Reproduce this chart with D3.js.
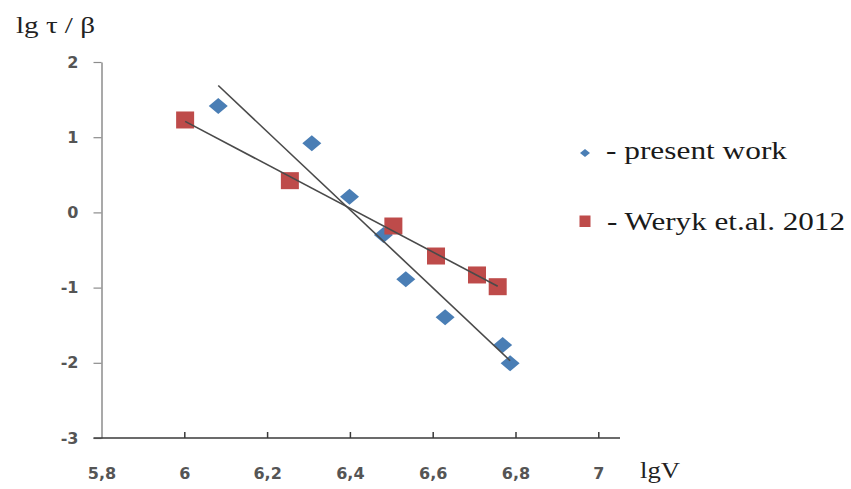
<!DOCTYPE html>
<html>
<head>
<meta charset="utf-8">
<script src="https://cdn.jsdelivr.net/npm/d3@7"></script>
<style>
  html, body { margin: 0; padding: 0; background: #fff; }
  svg { display: block; }
</style>
</head>
<body>
<svg id="chart" width="851" height="489"></svg>
<script>
// ---- data ----
const presentX = [6.082, 6.308, 6.399, 6.481, 6.535, 6.630, 6.769, 6.787];
const presentY = [1.415, 0.919, 0.209, -0.301, -0.890, -1.395, -1.763, -2.007];
const werykX = [6.002, 6.255, 6.505, 6.608, 6.707, 6.757];
const werykY = [1.229, 0.422, -0.181, -0.580, -0.832, -0.988];
const xTicks = [5.8, 6, 6.2, 6.4, 6.6, 6.8, 7];
const yTicks = [-3, -2, -1, 0, 1, 2];
const seriesNames = ["- present work", "- Weryk et.al. 2012"];
const yTitle = "lg \u03C4 / \u03B2";
const xTitle = "lgV";

const blue = "#4A7EB5", red = "#BE4B4A", trend = "#4a4a4a";

const svg = d3.select("#chart");
svg.append("rect").attr("width", 851).attr("height", 489).attr("fill", "#fff");

const x = d3.scaleLinear().domain([5.8, 7]).range([101.5, 598.3]);
const y = d3.scaleLinear().domain([-3, 2]).range([438, 62]);

const fmt = d => String(d).replace(".", ",");

// y axis
const yAxis = svg.append("g").attr("transform", `translate(${x(5.8)},0)`)
  .call(d3.axisLeft(y).tickValues(yTicks).tickSize(8).tickSizeOuter(0).tickFormat(fmt).tickPadding(15));
yAxis.select(".domain").attr("stroke", "#8c8c8c").attr("stroke-width", 1.5);
yAxis.selectAll(".tick line").attr("stroke", "#8c8c8c").attr("stroke-width", 1.2);
yAxis.selectAll(".tick text")
  .attr("font-family", "DejaVu Sans, Verdana, sans-serif")
  .attr("font-weight", "bold").attr("font-size", 16).attr("fill", "#555");

// x axis
const xAxis = svg.append("g").attr("transform", `translate(0,${y(-3)})`)
  .call(d3.axisBottom(x).tickValues(xTicks).tickSize(-6).tickSizeOuter(0).tickFormat(fmt).tickPadding(30));
xAxis.select(".domain").remove();
xAxis.append("line").attr("x1", x(5.8) - 8).attr("x2", 620).attr("y1", 0).attr("y2", 0)
  .attr("stroke", "#3a3a3a").attr("stroke-width", 1.5);
xAxis.selectAll(".tick line").attr("stroke", "#3a3a3a").attr("stroke-width", 1.5)
  .attr("opacity", d => d === 5.8 ? 0 : 1);
xAxis.selectAll(".tick text")
  .attr("font-family", "DejaVu Sans, Verdana, sans-serif")
  .attr("font-weight", "bold").attr("font-size", 16).attr("fill", "#555");

// markers
const present = presentX.map((v, i) => ({x: v, y: presentY[i]}));
const weryk = werykX.map((v, i) => ({x: v, y: werykY[i]}));

const diamond = (w, h) => `M0,${-h/2}L${w/2},0L0,${h/2}L${-w/2},0Z`;

svg.append("g").selectAll("path").data(present).join("path")
  .attr("d", diamond(19, 16))
  .attr("transform", d => `translate(${x(d.x)},${y(d.y)})`)
  .attr("fill", blue);

svg.append("g").selectAll("rect").data(weryk).join("rect")
  .attr("x", d => x(d.x) - 9).attr("y", d => y(d.y) - 8.5)
  .attr("width", 18).attr("height", 17)
  .attr("fill", red);

// linear trend lines (least squares over each series' x range)
function fit(pts) {
  const mx = d3.mean(pts, d => d.x), my = d3.mean(pts, d => d.y);
  const sxy = d3.sum(pts, d => (d.x - mx) * (d.y - my));
  const sxx = d3.sum(pts, d => (d.x - mx) ** 2);
  const b = sxy / sxx, a = my - b * mx;
  const [x0, x1] = d3.extent(pts, d => d.x);
  return [{x: x0, y: a + b * x0}, {x: x1, y: a + b * x1}];
}
const line = d3.line().x(d => x(d.x)).y(d => y(d.y));
[present, weryk].forEach(s => {
  svg.append("path").attr("d", line(fit(s)))
    .attr("fill", "none").attr("stroke", trend).attr("stroke-width", 1.6);
});

// titles
svg.append("text").attr("x", 16).attr("y", 33).text(yTitle)
  .attr("font-family", "Liberation Serif, Times New Roman, serif")
  .attr("font-size", 24).attr("fill", "#222")
  .attr("textLength", 79).attr("lengthAdjust", "spacingAndGlyphs");
svg.append("text").attr("x", 640).attr("y", 478).text(xTitle)
  .attr("font-family", "Liberation Serif, Times New Roman, serif")
  .attr("font-size", 23).attr("fill", "#222")
  .attr("textLength", 40).attr("lengthAdjust", "spacingAndGlyphs");

// legend
const lg = svg.append("g");
lg.append("path").attr("d", diamond(10, 8)).attr("transform", "translate(585,153)").attr("fill", blue);
lg.append("rect").attr("x", 579.5).attr("y", 215.5).attr("width", 11).attr("height", 11.5).attr("fill", red);
const legendText = [{t: seriesNames[0], x: 606, y: 159, len: 181}, {t: seriesNames[1], x: 607, y: 230, len: 238}];
lg.selectAll("text").data(legendText).join("text")
  .attr("x", d => d.x).attr("y", d => d.y).text(d => d.t)
  .attr("font-family", "Liberation Serif, Times New Roman, serif")
  .attr("font-size", 25).attr("fill", "#1a1a1a")
  .attr("textLength", d => d.len).attr("lengthAdjust", "spacingAndGlyphs");
</script>
</body>
</html>
